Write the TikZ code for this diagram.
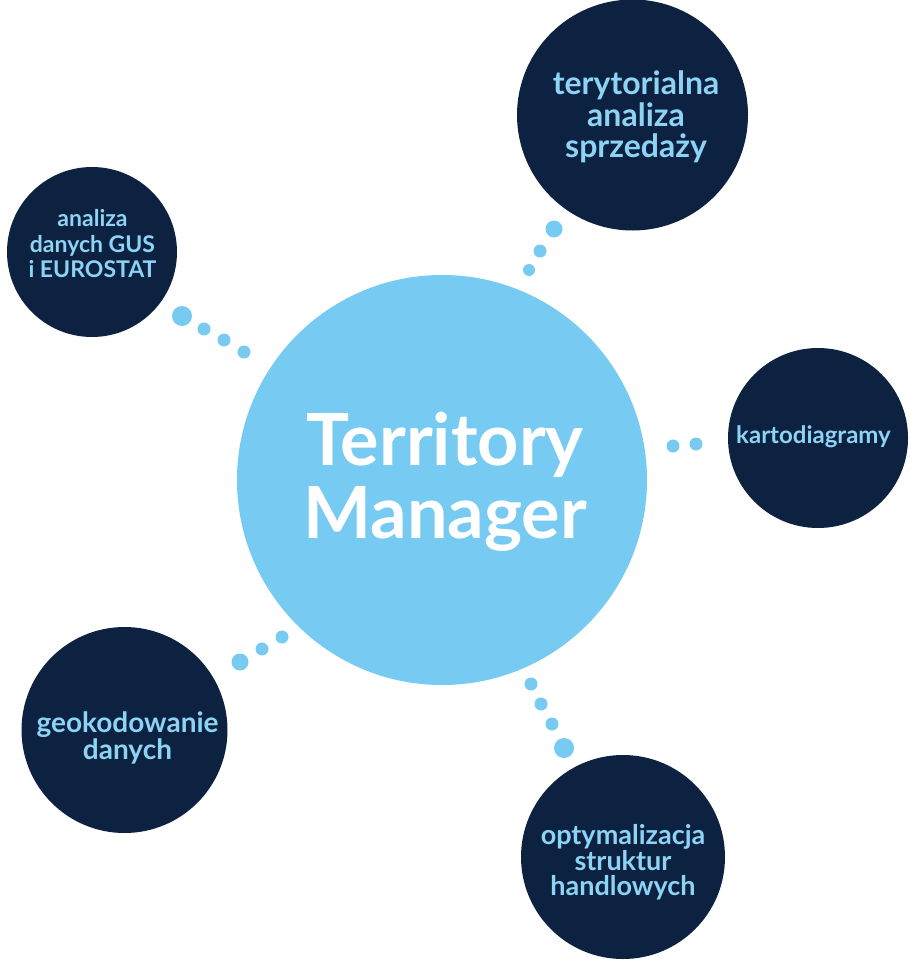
\documentclass[tikz,border=0pt]{standalone}
\usepackage{fontspec}
\setmainfont{Lato}
\definecolor{navy}{HTML}{0D2240}
\definecolor{sky}{HTML}{77CBF2}
\definecolor{skytext}{HTML}{8DD3F5}
\tikzset{
  bub/.style={circle, fill=navy, draw=none, inner sep=0pt},
  hub/.style={circle, fill=sky, draw=none, inner sep=0pt},
  lbl/.style={text=skytext, align=center, inner sep=0pt},
  dotc/.style={fill=sky}
}
\begin{document}
\begin{tikzpicture}[x=1pt, y=-1pt]
\useasboundingbox (0,0) rectangle (910,960);
\fill[white] (0,0) rectangle (910,960);
% circles
\node[hub, minimum size=410pt] (hub) at (442,480) {};
\node[bub, minimum size=231pt] (tr) at (632.5,115) {};
\node[bub, minimum size=170pt] (tl) at (92,252) {};
\node[bub, minimum size=180pt] (rt) at (818,438) {};
\node[bub, minimum size=206pt] (bl) at (124.5,730) {};
\node[bub, minimum size=204pt] (br) at (623,857) {};
% texts
\node[text=white, align=center, inner sep=0pt, font=\fontsize{72}{73}\selectfont\bfseries] (hubt) at (445,481.7) {Territory\\Manager};
\node[lbl, font=\fontsize{32}{31.5}\selectfont\bfseries] (trt) at (636,117) {terytorialna\\analiza\\sprzedaży};
\node[lbl, font=\fontsize{23}{25.5}\selectfont\bfseries] (tlt) at (92.5,244) {analiza\\danych GUS\\i EUROSTAT};
\node[lbl, font=\fontsize{24}{25}\selectfont\bfseries] (rtt) at (813.5,436.5) {kartodiagramy};
\node[lbl, font=\fontsize{28}{27}\selectfont\bfseries] (blt) at (127.5,738) {geokodowanie\\danych};
\node[lbl, font=\fontsize{27}{25.5}\selectfont\bfseries] (brt) at (623,862.5) {optymalizacja\\struktur\\handlowych};
% dotted links
\fill[dotc] (182,316) circle (10) (204,329) circle (6.5) (224,340) circle (6.5) (244,352) circle (6.5);
\fill[dotc] (554,229) circle (8.5) (540,251) circle (6.5) (529,270) circle (6);
\fill[dotc] (673,446) circle (6.5) (696,444) circle (6.5);
\fill[dotc] (240,662) circle (8.5) (262,649) circle (6.5) (282,637) circle (6.5);
\fill[dotc] (531,684) circle (6.5) (541,704) circle (6.5) (552,724) circle (6.5) (564,748) circle (10);
\end{tikzpicture}
\end{document}
